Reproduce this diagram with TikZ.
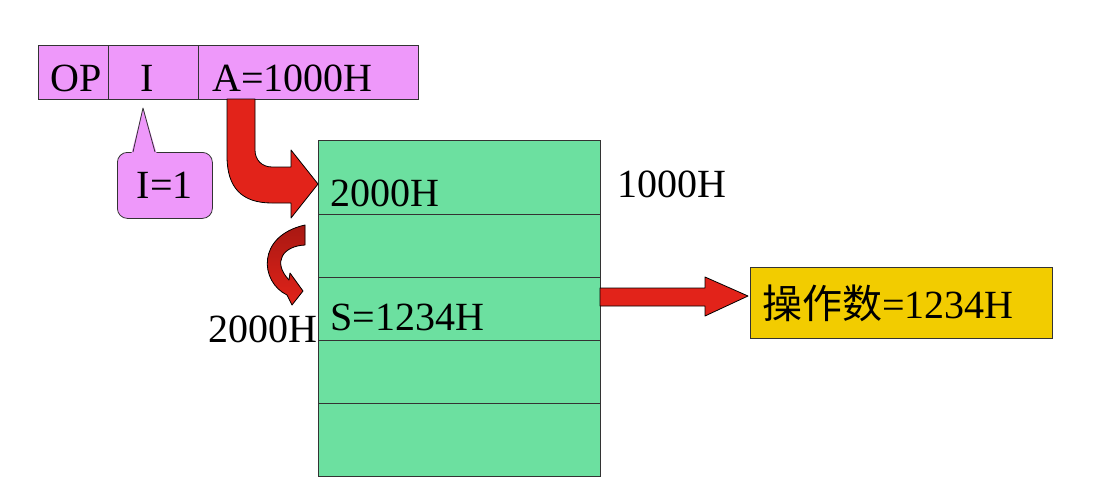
\documentclass[tikz,border=0pt]{standalone}
\usepackage{fontspec}
\setmainfont{Liberation Serif}
\newfontfamily\cjk{Noto Sans CJK SC}
\usetikzlibrary{positioning}

\definecolor{instr}{RGB}{238,152,250}
\definecolor{mem}{RGB}{108,224,160}
\definecolor{result}{RGB}{242,204,0}
\definecolor{arrowred}{RGB}{226,35,26}
\definecolor{darkred}{RGB}{168,24,18}

\begin{document}
\begin{tikzpicture}[x=1pt,y=-1pt,
                    txt/.style={font=\fontsize{40}{40}\selectfont,inner sep=0pt},
                    field/.style={draw=black!80,fill=instr,line width=0.8pt,minimum height=54pt,
                                  inner sep=0pt,outer sep=0pt,anchor=north west},
                    cell/.style={draw=black!80,fill=mem,line width=0.8pt,minimum width=282pt,
                                 inner sep=0pt,outer sep=0pt,anchor=north west},
                    fat/.style={draw=black,fill=arrowred,line width=0.8pt,line join=round}]
\useasboundingbox (0,0) rectangle (1097,503);

% instruction word
\node[field,minimum width=70pt] (op) at (38,45) {};
\node[field,minimum width=90pt] (ifld) [right=0pt of op] {};
\node[field,minimum width=220pt] (addr) [right=0pt of ifld] {};
\node[txt,anchor=base west] (optxt) at (50,92) {OP};
\node[txt,anchor=base] (itxt) at (147,92) {I};
\node[txt,anchor=base west] (addrtxt) at (212,92) {A=1000H};

% indirect flag callout
\node[draw=black!80,fill=instr,line width=0.8pt,rounded corners=10pt,minimum width=95pt,
      minimum height=66pt,anchor=north west,txt] (flag) at (117,152) {I=1};
\fill[instr] (131.5,153) -- (143,108) -- (156.5,153) -- cycle;
\draw[black!80,line width=0.8pt,line join=round] (133,152) -- (143,108) -- (155,152);

% memory
\node[cell,minimum height=74pt] (m0) at (318,140) {};
\node[cell,minimum height=63pt] (m1) [below=0pt of m0] {};
\node[cell,minimum height=63pt] (m2) [below=0pt of m1] {};
\node[cell,minimum height=63pt] (m3) [below=0pt of m2] {};
\node[cell,minimum height=73pt] (m4) [below=0pt of m3] {};
\node[txt,anchor=base west] (v0) at (330,206) {2000H};
\node[txt,anchor=base west] (v2) at (330,330) {S=1234H};
\node[txt,anchor=base west] (a0) at (617,197) {1000H};
\node[txt,anchor=base east] (a2) at (m2.west |- 0,342) {2000H};

% operand
\node[draw=black!80,fill=result,line width=0.8pt,minimum width=302pt,minimum height=71pt,
      anchor=north west] (res) at (750,267) {};
\node[txt,anchor=base west] (restxt) at (762,318) {{\cjk 操作数}=1234H};

% arrows
\draw[fat] (227,99) -- (227,156) .. controls (227,188) and (242,203) .. (272,203)
           -- (291,203) -- (291,218) -- (318,184) -- (291,150) -- (291,167) -- (272,167)
           .. controls (262,167) and (255,160) .. (255,150) -- (255,99) -- cycle;
\draw[fat,top color=darkred,bottom color=arrowred] (305,225) -- (305,245)
           .. controls (283,246) and (272,262) .. (289,280) -- (290,273) -- (303,291)
           -- (292,305) -- (287,295) .. controls (260,282) and (256,236) .. (305,225) -- cycle;
\draw[fat] (600,288) -- (705,288) -- (705,277) -- (748,296) -- (705,316) -- (705,306)
           -- (600,306) -- cycle;
\end{tikzpicture}
\end{document}
